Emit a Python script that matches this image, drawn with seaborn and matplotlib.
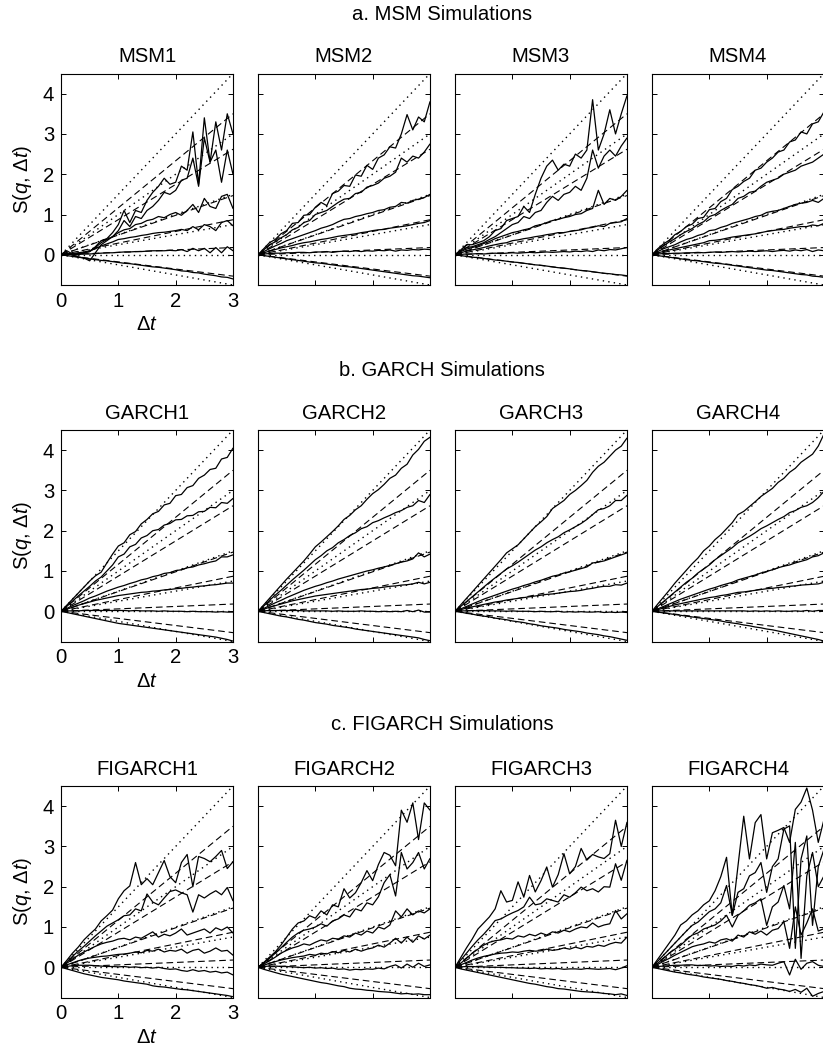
import matplotlib
matplotlib.use("Agg")
import matplotlib.pyplot as plt
import pandas as pd
import seaborn as sns

# ---------------- data ----------------
dt = [0.0, 0.1, 0.2, 0.3, 0.4, 0.5, 0.6, 0.7, 0.8, 0.9, 1.0, 1.1, 1.2, 1.3, 1.4, 1.5,
      1.6, 1.7, 1.8, 1.9, 2.0, 2.1, 2.2, 2.3, 2.4, 2.5, 2.6, 2.7, 2.8, 2.9, 3.0]

row_titles = ["a. MSM Simulations", "b. GARCH Simulations", "c. FIGARCH Simulations"]
panel_titles = [["MSM1", "MSM2", "MSM3", "MSM4"],
                ["GARCH1", "GARCH2", "GARCH3", "GARCH4"],
                ["FIGARCH1", "FIGARCH2", "FIGARCH3", "FIGARCH4"]]

# reference lines: value reached at dt = 3 (lines start at the origin)
ref_dt = [0.0, 3.0]
dashed_end = [3.5, 2.62, 1.47, 0.87, 0.18, -0.53]
dotted_end = [4.5, 3.0, 1.5, 0.75, 0.0, -0.75]

MSM1 = [
    [0.00, 0.10, 0.02, 0.03, 0.05, 0.08, 0.20, 0.35, 0.40, 0.55, 0.75, 1.10, 0.80, 1.10, 1.05, 1.35, 1.55, 1.70, 1.90, 1.75, 1.80, 2.20, 2.10, 3.05, 1.75, 3.40, 2.30, 3.30, 2.60, 3.50, 3.00],
    [0.00, 0.05, 0.00, -0.05, -0.08, -0.15, 0.05, 0.25, 0.35, 0.45, 0.60, 0.85, 0.70, 0.95, 0.90, 1.10, 1.20, 1.35, 1.55, 1.50, 1.60, 1.85, 1.90, 2.40, 1.70, 2.90, 2.30, 2.60, 1.80, 2.60, 2.00],
    [0.00, 0.03, 0.00, 0.00, 0.05, 0.08, 0.18, 0.30, 0.38, 0.45, 0.55, 0.62, 0.65, 0.75, 0.78, 0.85, 0.88, 0.95, 0.92, 1.00, 1.05, 0.98, 1.10, 1.25, 1.05, 1.40, 1.20, 1.15, 1.45, 1.50, 1.15],
    [0.00, 0.02, 0.03, 0.05, 0.07, 0.10, 0.15, 0.22, 0.27, 0.32, 0.38, 0.40, 0.43, 0.45, 0.48, 0.50, 0.53, 0.55, 0.56, 0.58, 0.60, 0.63, 0.60, 0.70, 0.62, 0.75, 0.70, 0.60, 0.80, 0.85, 0.72],
    [0.00, 0.01, 0.00, 0.01, 0.02, 0.02, 0.03, 0.04, 0.05, 0.05, 0.06, 0.07, 0.07, 0.08, 0.08, 0.09, 0.10, 0.10, 0.10, 0.11, 0.10, 0.13, 0.08, 0.16, 0.10, 0.16, 0.05, 0.18, 0.05, 0.20, 0.10],
    [0.00, -0.02, -0.04, -0.06, -0.08, -0.10, -0.12, -0.14, -0.15, -0.17, -0.19, -0.21, -0.22, -0.24, -0.26, -0.28, -0.30, -0.31, -0.33, -0.35, -0.37, -0.40, -0.41, -0.44, -0.45, -0.48, -0.50, -0.52, -0.55, -0.56, -0.60],
]
MSM2 = [
    [0.00, 0.15, 0.30, 0.38, 0.52, 0.60, 0.78, 0.80, 0.98, 1.00, 1.18, 1.30, 1.22, 1.52, 1.58, 1.72, 1.70, 1.98, 1.95, 2.22, 2.12, 2.40, 2.48, 2.68, 2.65, 3.00, 3.48, 3.10, 3.42, 3.30, 3.80],
    [0.00, 0.12, 0.25, 0.32, 0.42, 0.50, 0.62, 0.68, 0.80, 0.85, 1.00, 1.05, 1.10, 1.20, 1.30, 1.38, 1.40, 1.52, 1.55, 1.68, 1.72, 1.78, 1.90, 1.95, 2.05, 2.40, 2.30, 2.45, 2.40, 2.55, 2.75],
    [0.00, 0.08, 0.15, 0.22, 0.28, 0.35, 0.40, 0.45, 0.50, 0.55, 0.60, 0.66, 0.70, 0.75, 0.82, 0.88, 0.90, 0.95, 0.98, 1.02, 1.05, 1.10, 1.12, 1.18, 1.20, 1.30, 1.28, 1.35, 1.38, 1.42, 1.50],
    [0.00, 0.05, 0.09, 0.13, 0.17, 0.20, 0.23, 0.27, 0.30, 0.32, 0.35, 0.38, 0.40, 0.43, 0.46, 0.48, 0.50, 0.52, 0.55, 0.57, 0.60, 0.62, 0.63, 0.66, 0.68, 0.70, 0.72, 0.75, 0.78, 0.80, 0.85],
    [0.00, 0.02, 0.03, 0.04, 0.04, 0.05, 0.05, 0.06, 0.06, 0.05, 0.07, 0.07, 0.08, 0.06, 0.08, 0.09, 0.08, 0.10, 0.08, 0.10, 0.09, 0.11, 0.10, 0.12, 0.09, 0.12, 0.11, 0.13, 0.12, 0.14, 0.13],
    [0.00, -0.02, -0.04, -0.06, -0.08, -0.10, -0.12, -0.14, -0.16, -0.18, -0.20, -0.21, -0.23, -0.25, -0.27, -0.29, -0.30, -0.32, -0.34, -0.36, -0.38, -0.40, -0.42, -0.44, -0.46, -0.48, -0.50, -0.52, -0.53, -0.55, -0.57],
]
MSM3 = [
    [0.00, 0.12, 0.25, 0.25, 0.30, 0.35, 0.45, 0.60, 0.65, 0.85, 0.90, 0.95, 1.20, 1.05, 1.50, 1.90, 2.20, 2.35, 2.10, 2.25, 2.20, 2.50, 2.40, 2.60, 3.85, 2.60, 3.00, 3.60, 3.00, 3.50, 3.95],
    [0.00, 0.10, 0.18, 0.20, 0.25, 0.30, 0.38, 0.45, 0.55, 0.65, 0.75, 0.80, 0.95, 0.90, 1.05, 1.10, 1.30, 1.45, 1.35, 1.50, 1.55, 1.70, 1.60, 1.90, 2.60, 2.15, 2.45, 2.60, 2.45, 2.70, 2.90],
    [0.00, 0.08, 0.14, 0.18, 0.22, 0.28, 0.33, 0.40, 0.45, 0.50, 0.55, 0.58, 0.62, 0.65, 0.72, 0.75, 0.80, 0.85, 0.88, 0.92, 0.95, 1.00, 1.02, 1.10, 1.15, 1.60, 1.25, 1.40, 1.35, 1.45, 1.60],
    [0.00, 0.05, 0.09, 0.12, 0.15, 0.18, 0.22, 0.25, 0.28, 0.30, 0.35, 0.37, 0.40, 0.42, 0.45, 0.47, 0.50, 0.52, 0.55, 0.55, 0.58, 0.60, 0.62, 0.66, 0.68, 0.72, 0.70, 0.78, 0.80, 0.82, 0.90],
    [0.00, 0.01, 0.02, 0.02, 0.03, 0.02, 0.03, 0.04, 0.03, 0.04, 0.05, 0.04, 0.05, 0.06, 0.05, 0.06, 0.07, 0.06, 0.07, 0.08, 0.07, 0.09, 0.08, 0.10, 0.08, 0.12, 0.10, 0.13, 0.12, 0.15, 0.18],
    [0.00, -0.02, -0.04, -0.06, -0.07, -0.09, -0.11, -0.13, -0.14, -0.16, -0.18, -0.19, -0.21, -0.23, -0.25, -0.26, -0.28, -0.30, -0.32, -0.33, -0.35, -0.37, -0.39, -0.40, -0.42, -0.44, -0.46, -0.47, -0.49, -0.50, -0.52],
]
MSM4 = [
    [0.00, 0.15, 0.27, 0.36, 0.50, 0.58, 0.70, 0.76, 0.90, 0.93, 1.12, 1.15, 1.32, 1.40, 1.62, 1.70, 1.82, 1.90, 2.10, 2.15, 2.30, 2.40, 2.55, 2.60, 2.80, 2.85, 3.05, 3.00, 3.25, 3.30, 3.55],
    [0.00, 0.12, 0.22, 0.32, 0.40, 0.50, 0.58, 0.65, 0.75, 0.82, 0.95, 1.00, 1.10, 1.18, 1.25, 1.40, 1.45, 1.55, 1.58, 1.70, 1.80, 1.85, 1.90, 2.00, 2.05, 2.10, 2.20, 2.25, 2.30, 2.40, 2.50],
    [0.00, 0.08, 0.15, 0.20, 0.25, 0.32, 0.38, 0.42, 0.48, 0.52, 0.60, 0.62, 0.68, 0.72, 0.78, 0.82, 0.86, 0.90, 0.95, 0.98, 1.05, 1.08, 1.10, 1.15, 1.20, 1.25, 1.28, 1.30, 1.35, 1.30, 1.40],
    [0.00, 0.05, 0.08, 0.12, 0.15, 0.18, 0.21, 0.24, 0.27, 0.30, 0.35, 0.36, 0.38, 0.41, 0.44, 0.46, 0.48, 0.50, 0.52, 0.55, 0.58, 0.60, 0.62, 0.63, 0.66, 0.68, 0.70, 0.70, 0.74, 0.72, 0.78],
    [0.00, 0.02, 0.03, 0.03, 0.04, 0.04, 0.05, 0.05, 0.06, 0.05, 0.06, 0.07, 0.06, 0.07, 0.08, 0.07, 0.08, 0.09, 0.08, 0.09, 0.10, 0.08, 0.10, 0.11, 0.09, 0.12, 0.10, 0.13, 0.08, 0.12, 0.10],
    [0.00, -0.02, -0.04, -0.06, -0.08, -0.10, -0.12, -0.14, -0.15, -0.17, -0.19, -0.21, -0.22, -0.24, -0.26, -0.28, -0.30, -0.32, -0.34, -0.36, -0.38, -0.39, -0.41, -0.43, -0.45, -0.47, -0.49, -0.50, -0.53, -0.54, -0.56],
]
GARCH1 = [
    [0.00, 0.15, 0.30, 0.45, 0.60, 0.75, 0.88, 0.97, 1.20, 1.42, 1.62, 1.70, 1.90, 1.98, 2.17, 2.28, 2.42, 2.48, 2.64, 2.68, 2.87, 2.90, 3.07, 3.12, 3.30, 3.38, 3.52, 3.55, 3.78, 3.82, 4.05],
    [0.00, 0.12, 0.25, 0.38, 0.50, 0.62, 0.75, 0.85, 1.00, 1.15, 1.35, 1.42, 1.60, 1.66, 1.82, 1.88, 2.00, 2.03, 2.14, 2.18, 2.27, 2.28, 2.37, 2.38, 2.47, 2.48, 2.58, 2.57, 2.70, 2.68, 2.80],
    [0.00, 0.07, 0.14, 0.20, 0.26, 0.33, 0.38, 0.44, 0.50, 0.55, 0.60, 0.64, 0.69, 0.73, 0.78, 0.81, 0.86, 0.89, 0.94, 0.96, 1.01, 1.03, 1.08, 1.10, 1.15, 1.18, 1.22, 1.25, 1.35, 1.35, 1.40],
    [0.00, 0.05, 0.10, 0.15, 0.19, 0.23, 0.27, 0.30, 0.33, 0.36, 0.39, 0.41, 0.43, 0.45, 0.47, 0.48, 0.50, 0.51, 0.53, 0.54, 0.56, 0.57, 0.59, 0.60, 0.62, 0.63, 0.65, 0.66, 0.68, 0.70, 0.70],
    [0.00, 0.01, 0.01, 0.01, 0.02, 0.02, 0.02, 0.02, 0.02, 0.02, 0.02, 0.02, 0.01, 0.02, 0.01, 0.01, 0.01, 0.00, 0.01, 0.00, 0.00, 0.00, -0.01, 0.00, -0.01, -0.01, -0.01, -0.02, -0.01, -0.02, -0.02],
    [0.00, -0.03, -0.06, -0.09, -0.12, -0.15, -0.18, -0.21, -0.24, -0.27, -0.30, -0.32, -0.34, -0.36, -0.38, -0.40, -0.42, -0.44, -0.46, -0.48, -0.50, -0.52, -0.54, -0.56, -0.58, -0.60, -0.62, -0.64, -0.67, -0.70, -0.74],
]
GARCH2 = [
    [0.00, 0.16, 0.32, 0.48, 0.64, 0.80, 0.95, 1.10, 1.25, 1.42, 1.60, 1.72, 1.85, 1.98, 2.12, 2.28, 2.38, 2.52, 2.62, 2.78, 2.92, 3.02, 3.15, 3.30, 3.38, 3.55, 3.65, 3.88, 4.02, 4.22, 4.32],
    [0.00, 0.13, 0.27, 0.40, 0.52, 0.65, 0.78, 0.90, 1.02, 1.15, 1.28, 1.38, 1.50, 1.58, 1.70, 1.78, 1.88, 1.95, 2.05, 2.10, 2.20, 2.25, 2.32, 2.38, 2.45, 2.50, 2.58, 2.62, 2.75, 2.70, 2.90],
    [0.00, 0.07, 0.14, 0.21, 0.27, 0.34, 0.40, 0.46, 0.52, 0.57, 0.62, 0.66, 0.71, 0.75, 0.80, 0.84, 0.88, 0.92, 0.96, 1.00, 1.03, 1.07, 1.10, 1.14, 1.18, 1.22, 1.25, 1.30, 1.45, 1.35, 1.42],
    [0.00, 0.05, 0.10, 0.14, 0.18, 0.22, 0.26, 0.29, 0.32, 0.35, 0.38, 0.40, 0.42, 0.44, 0.46, 0.48, 0.50, 0.52, 0.54, 0.55, 0.57, 0.58, 0.60, 0.62, 0.63, 0.65, 0.66, 0.68, 0.72, 0.68, 0.72],
    [0.00, 0.01, 0.02, 0.02, 0.02, 0.02, 0.02, 0.02, 0.01, 0.01, 0.01, 0.01, 0.01, 0.00, 0.01, 0.00, 0.00, 0.00, 0.01, 0.00, 0.00, -0.01, 0.00, -0.01, 0.00, -0.01, 0.02, -0.01, 0.03, -0.02, -0.02],
    [0.00, -0.03, -0.06, -0.09, -0.12, -0.14, -0.17, -0.20, -0.22, -0.25, -0.28, -0.30, -0.32, -0.35, -0.37, -0.39, -0.41, -0.44, -0.46, -0.48, -0.50, -0.52, -0.54, -0.56, -0.58, -0.60, -0.62, -0.64, -0.66, -0.70, -0.73],
]
GARCH3 = [
    [0.00, 0.16, 0.32, 0.48, 0.64, 0.80, 0.96, 1.12, 1.28, 1.45, 1.55, 1.65, 1.80, 1.95, 2.10, 2.22, 2.35, 2.55, 2.65, 2.75, 2.90, 3.00, 3.12, 3.25, 3.45, 3.60, 3.70, 3.85, 4.00, 4.10, 4.30],
    [0.00, 0.12, 0.24, 0.36, 0.48, 0.60, 0.72, 0.83, 0.94, 1.05, 1.13, 1.22, 1.32, 1.42, 1.52, 1.60, 1.70, 1.78, 1.85, 1.95, 2.02, 2.10, 2.18, 2.28, 2.40, 2.52, 2.55, 2.62, 2.75, 2.75, 2.88],
    [0.00, 0.06, 0.12, 0.18, 0.24, 0.30, 0.35, 0.40, 0.45, 0.50, 0.55, 0.59, 0.64, 0.68, 0.73, 0.77, 0.82, 0.87, 0.90, 0.95, 0.98, 1.02, 1.06, 1.10, 1.20, 1.22, 1.25, 1.30, 1.35, 1.40, 1.45],
    [0.00, 0.04, 0.08, 0.11, 0.14, 0.17, 0.20, 0.23, 0.25, 0.28, 0.30, 0.32, 0.34, 0.36, 0.38, 0.40, 0.42, 0.43, 0.45, 0.47, 0.49, 0.50, 0.52, 0.55, 0.57, 0.60, 0.62, 0.62, 0.66, 0.65, 0.70],
    [0.00, 0.01, 0.01, 0.02, 0.01, 0.02, 0.01, 0.01, 0.01, 0.00, 0.01, 0.00, 0.00, 0.00, -0.01, 0.00, -0.01, -0.01, 0.00, -0.02, -0.01, -0.02, -0.01, -0.02, -0.02, -0.01, -0.03, -0.02, -0.03, -0.02, -0.03],
    [0.00, -0.02, -0.05, -0.07, -0.10, -0.12, -0.14, -0.17, -0.19, -0.21, -0.24, -0.26, -0.28, -0.31, -0.33, -0.36, -0.38, -0.40, -0.42, -0.45, -0.47, -0.49, -0.51, -0.54, -0.56, -0.58, -0.61, -0.63, -0.66, -0.69, -0.72],
]
GARCH4 = [
    [0.00, 0.18, 0.35, 0.52, 0.70, 0.86, 1.02, 1.18, 1.32, 1.50, 1.62, 1.78, 1.90, 2.05, 2.20, 2.40, 2.48, 2.60, 2.72, 2.85, 2.95, 3.05, 3.20, 3.30, 3.45, 3.55, 3.70, 3.80, 3.90, 4.10, 4.40],
    [0.00, 0.12, 0.24, 0.36, 0.48, 0.60, 0.72, 0.82, 0.95, 1.05, 1.15, 1.28, 1.38, 1.48, 1.58, 1.70, 1.78, 1.86, 1.95, 2.05, 2.12, 2.20, 2.28, 2.35, 2.45, 2.50, 2.58, 2.62, 2.70, 2.82, 2.98],
    [0.00, 0.06, 0.12, 0.18, 0.24, 0.30, 0.35, 0.40, 0.45, 0.50, 0.55, 0.59, 0.64, 0.68, 0.72, 0.78, 0.82, 0.86, 0.90, 0.95, 0.99, 1.03, 1.08, 1.12, 1.15, 1.20, 1.24, 1.28, 1.35, 1.38, 1.45],
    [0.00, 0.04, 0.08, 0.12, 0.16, 0.19, 0.22, 0.25, 0.28, 0.31, 0.34, 0.36, 0.39, 0.41, 0.44, 0.47, 0.48, 0.50, 0.52, 0.54, 0.56, 0.57, 0.59, 0.60, 0.62, 0.63, 0.65, 0.66, 0.67, 0.68, 0.72],
    [0.00, 0.01, 0.01, 0.01, 0.01, 0.01, 0.01, 0.01, 0.01, 0.01, 0.01, 0.01, 0.01, 0.01, 0.01, 0.01, 0.01, 0.00, 0.01, 0.00, 0.01, 0.00, 0.01, 0.00, 0.00, 0.01, 0.00, 0.02, 0.00, 0.02, 0.02],
    [0.00, -0.02, -0.04, -0.06, -0.08, -0.10, -0.12, -0.14, -0.16, -0.18, -0.20, -0.22, -0.24, -0.27, -0.29, -0.31, -0.34, -0.36, -0.39, -0.41, -0.44, -0.46, -0.49, -0.52, -0.55, -0.58, -0.61, -0.64, -0.67, -0.70, -0.74],
]
FIGARCH1 = [
    [0.00, 0.17, 0.35, 0.50, 0.68, 0.82, 0.95, 1.15, 1.28, 1.42, 1.70, 1.90, 2.02, 2.60, 2.05, 2.20, 2.05, 2.35, 2.65, 2.25, 2.10, 2.60, 2.80, 2.00, 2.75, 2.70, 2.62, 2.75, 2.90, 2.45, 2.62],
    [0.00, 0.13, 0.27, 0.40, 0.52, 0.65, 0.78, 0.90, 1.02, 1.10, 1.18, 1.28, 1.30, 1.45, 1.40, 1.82, 1.62, 1.55, 1.72, 1.88, 1.92, 1.85, 1.80, 1.37, 1.80, 1.72, 1.82, 1.90, 1.80, 1.98, 1.65],
    [0.00, 0.10, 0.20, 0.30, 0.38, 0.45, 0.52, 0.58, 0.62, 0.65, 0.70, 0.72, 0.68, 0.75, 0.72, 0.80, 0.88, 0.75, 0.82, 0.78, 0.85, 0.95, 0.80, 0.85, 0.90, 0.95, 0.85, 0.98, 0.92, 1.00, 0.85],
    [0.00, 0.06, 0.11, 0.16, 0.20, 0.23, 0.25, 0.27, 0.28, 0.30, 0.32, 0.33, 0.35, 0.38, 0.36, 0.42, 0.40, 0.45, 0.38, 0.42, 0.40, 0.45, 0.35, 0.42, 0.45, 0.35, 0.40, 0.48, 0.40, 0.42, 0.30],
    [0.00, 0.02, 0.04, 0.05, 0.05, 0.05, 0.04, 0.03, 0.02, 0.02, 0.01, 0.02, 0.00, 0.01, -0.01, 0.00, -0.02, 0.00, -0.03, -0.05, -0.04, -0.08, -0.10, -0.06, -0.10, -0.08, -0.12, -0.10, -0.14, -0.12, -0.19],
    [0.00, -0.04, -0.08, -0.12, -0.16, -0.19, -0.22, -0.25, -0.27, -0.29, -0.31, -0.34, -0.36, -0.38, -0.40, -0.42, -0.46, -0.48, -0.49, -0.51, -0.53, -0.55, -0.56, -0.58, -0.60, -0.62, -0.64, -0.66, -0.68, -0.70, -0.73],
]
FIGARCH2 = [
    [0.00, 0.12, 0.25, 0.38, 0.55, 0.75, 0.95, 1.10, 1.15, 1.28, 1.22, 1.40, 1.30, 1.55, 1.50, 1.95, 1.72, 1.85, 2.10, 2.40, 2.15, 2.55, 2.85, 2.78, 2.52, 3.90, 3.60, 4.08, 3.17, 4.08, 3.90],
    [0.00, 0.10, 0.22, 0.35, 0.48, 0.62, 0.75, 0.85, 0.92, 0.95, 1.00, 1.08, 1.02, 1.15, 1.20, 1.30, 1.25, 1.45, 1.40, 1.60, 1.55, 1.75, 2.10, 2.30, 1.77, 2.85, 2.44, 2.60, 2.85, 2.44, 2.70],
    [0.00, 0.08, 0.16, 0.25, 0.35, 0.42, 0.48, 0.52, 0.58, 0.55, 0.62, 0.68, 0.65, 0.72, 0.70, 0.78, 0.75, 0.85, 0.80, 0.90, 0.85, 1.00, 0.95, 1.05, 1.40, 1.25, 1.45, 1.30, 1.40, 1.35, 1.45],
    [0.00, 0.05, 0.10, 0.14, 0.18, 0.21, 0.24, 0.26, 0.28, 0.32, 0.30, 0.35, 0.33, 0.39, 0.36, 0.42, 0.38, 0.45, 0.40, 0.45, 0.48, 0.55, 0.50, 0.60, 0.72, 0.60, 0.75, 0.62, 0.78, 0.70, 0.80],
    [0.00, 0.02, 0.03, 0.03, 0.02, 0.02, 0.01, 0.00, -0.01, 0.00, -0.02, -0.01, -0.03, -0.02, -0.05, -0.04, -0.07, -0.05, -0.06, -0.04, -0.05, -0.02, -0.04, 0.02, 0.06, -0.02, 0.08, 0.00, 0.10, 0.02, 0.06],
    [0.00, -0.05, -0.09, -0.13, -0.17, -0.20, -0.23, -0.26, -0.29, -0.32, -0.35, -0.38, -0.40, -0.43, -0.46, -0.48, -0.52, -0.54, -0.55, -0.57, -0.58, -0.60, -0.61, -0.62, -0.64, -0.66, -0.65, -0.67, -0.66, -0.68, -0.68],
]
FIGARCH3 = [
    [0.00, 0.24, 0.48, 0.70, 0.95, 1.10, 1.25, 1.45, 1.90, 1.62, 1.66, 2.12, 1.74, 2.28, 1.87, 2.15, 2.49, 1.99, 2.30, 2.82, 2.32, 2.50, 2.95, 2.66, 2.80, 2.74, 2.70, 2.82, 3.65, 3.00, 3.60],
    [0.00, 0.18, 0.35, 0.52, 0.68, 0.82, 0.98, 1.16, 1.20, 1.28, 1.35, 1.41, 1.50, 1.74, 1.55, 1.58, 1.70, 1.66, 1.62, 1.80, 1.74, 1.85, 1.99, 1.90, 1.95, 1.87, 2.00, 1.99, 2.57, 2.16, 2.66],
    [0.00, 0.10, 0.22, 0.35, 0.45, 0.55, 0.62, 0.66, 0.68, 0.72, 0.70, 0.78, 0.75, 0.82, 0.78, 0.85, 0.80, 0.88, 0.85, 0.92, 0.88, 0.95, 1.00, 0.98, 1.10, 1.00, 1.05, 1.08, 1.41, 1.20, 1.33],
    [0.00, 0.06, 0.12, 0.18, 0.23, 0.27, 0.30, 0.33, 0.35, 0.36, 0.38, 0.37, 0.40, 0.42, 0.40, 0.41, 0.45, 0.42, 0.44, 0.48, 0.45, 0.50, 0.46, 0.52, 0.50, 0.55, 0.52, 0.58, 0.62, 0.60, 0.75],
    [0.00, 0.01, 0.02, 0.02, 0.01, 0.01, 0.00, 0.00, 0.00, -0.01, -0.01, -0.02, -0.02, -0.03, -0.02, -0.04, -0.03, -0.04, -0.03, -0.05, -0.04, -0.04, -0.05, -0.03, -0.04, -0.05, -0.04, -0.03, -0.06, -0.02, 0.04],
    [0.00, -0.04, -0.07, -0.10, -0.13, -0.16, -0.19, -0.22, -0.25, -0.28, -0.31, -0.34, -0.37, -0.40, -0.42, -0.45, -0.48, -0.50, -0.53, -0.54, -0.56, -0.58, -0.60, -0.61, -0.62, -0.63, -0.65, -0.66, -0.68, -0.66, -0.70],
]
FIGARCH4 = [
    [0.00, 0.20, 0.40, 0.60, 0.80, 1.05, 1.15, 1.30, 1.40, 1.55, 1.65, 1.90, 2.25, 2.73, 1.29, 2.52, 3.75, 2.69, 3.59, 3.79, 2.69, 3.34, 3.40, 3.47, 3.10, 3.92, 4.10, 4.45, 3.90, 3.10, 3.67],
    [0.00, 0.15, 0.30, 0.45, 0.60, 0.75, 0.90, 1.04, 1.12, 1.25, 1.38, 1.45, 1.60, 2.03, 1.29, 1.86, 1.95, 2.27, 2.35, 2.60, 1.86, 2.50, 2.69, 3.43, 3.51, 0.47, 2.69, 3.26, 1.04, 2.50, 2.93],
    [0.00, 0.10, 0.22, 0.35, 0.45, 0.55, 0.68, 0.80, 0.85, 0.95, 1.00, 1.05, 1.15, 1.29, 1.00, 1.29, 1.40, 1.54, 1.60, 1.70, 1.04, 1.50, 1.62, 2.03, 1.45, 3.10, 0.22, 2.27, 2.85, 2.00, 2.27],
    [0.00, 0.07, 0.15, 0.22, 0.30, 0.37, 0.44, 0.51, 0.55, 0.58, 0.63, 0.60, 0.68, 0.71, 0.65, 0.80, 0.75, 0.88, 0.82, 0.90, 0.80, 0.92, 0.96, 1.13, 0.47, 1.50, 0.80, 1.10, 1.45, 0.90, 0.96],
    [0.00, 0.02, 0.03, 0.04, 0.05, 0.05, 0.06, 0.06, 0.04, 0.05, 0.03, 0.04, 0.02, 0.03, 0.02, 0.05, 0.03, 0.06, 0.04, 0.08, 0.06, 0.05, 0.10, 0.14, -0.19, 0.20, -0.05, 0.10, 0.14, 0.05, 0.02],
    [0.00, -0.03, -0.06, -0.09, -0.12, -0.14, -0.17, -0.19, -0.21, -0.24, -0.26, -0.28, -0.30, -0.33, -0.35, -0.38, -0.40, -0.43, -0.45, -0.48, -0.52, -0.50, -0.54, -0.56, -0.60, -0.55, -0.62, -0.52, -0.72, -0.65, -0.60],
]

panels = [[MSM1, MSM2, MSM3, MSM4],
          [GARCH1, GARCH2, GARCH3, GARCH4],
          [FIGARCH1, FIGARCH2, FIGARCH3, FIGARCH4]]

x_ticks = [0, 1, 2, 3]
y_ticks = [0, 1, 2, 3, 4]

# ---------------- style ----------------
sns.set_theme(style="ticks")
FONT = ["Liberation Sans", "DejaVu Sans"]
plt.rcParams.update({
    "font.family": FONT,
    "mathtext.fontset": "custom",
    "mathtext.rm": "Liberation Sans",
    "mathtext.it": "Liberation Sans:italic",
    "axes.edgecolor": "black",
    "axes.linewidth": 0.8,
    "xtick.direction": "in",
    "ytick.direction": "in",
    "xtick.top": True,
    "ytick.right": True,
    "xtick.major.size": 3.5,
    "ytick.major.size": 3.5,
    "xtick.major.width": 0.7,
    "ytick.major.width": 0.7,
    "xtick.color": "black",
    "ytick.color": "black",
    "text.color": "black",
    "axes.labelcolor": "black",
})

W, H = 823, 1047
fig = plt.figure(figsize=(W / 100, H / 100), dpi=100)
fig.patch.set_facecolor("white")

lefts_px = [61, 258, 455, 652]
tops_px = [73.5, 430, 786]
aw_px, ah_px = 172, 211.5
row_title_y_px = [15, 370, 725]

TXT = 14.6
DASH = (0, (6.0, 3.5))
DOT = (0, (1.0, 3.0))


def long_frame(lines, xs):
    rows = []
    for k, ys in enumerate(lines):
        for xv, yv in zip(xs, ys):
            rows.append({"dt": xv, "S": yv, "q": k})
    return pd.DataFrame(rows)


dotted_df = long_frame([[0.0, e] for e in dotted_end], ref_dt)
dashed_df = long_frame([[0.0, e] for e in dashed_end], ref_dt)

for r in range(3):
    fig.text(442 / W, 1 - row_title_y_px[r] / H, row_titles[r],
             ha="center", va="center", fontsize=TXT)
    for c in range(4):
        ax = fig.add_axes([lefts_px[c] / W, 1 - (tops_px[r] + ah_px) / H,
                           aw_px / W, ah_px / H])
        sns.lineplot(data=dotted_df, x="dt", y="S", units="q", estimator=None,
                     color="black", lw=1.0, linestyle=DOT, ax=ax, legend=False)
        sns.lineplot(data=dashed_df, x="dt", y="S", units="q", estimator=None,
                     color="black", lw=0.8, linestyle=DASH, ax=ax, legend=False)
        solid_df = long_frame(panels[r][c], dt)
        sns.lineplot(data=solid_df, x="dt", y="S", units="q", estimator=None,
                     color="black", lw=0.9, ax=ax, legend=False)
        ax.set_xlim(0, 3)
        ax.set_ylim(-0.75, 4.5)
        ax.set_xticks(x_ticks)
        ax.set_yticks(y_ticks)
        ax.tick_params(axis="both", which="both", pad=5, labelsize=TXT)
        ax.set_title(panel_titles[r][c], fontsize=TXT, pad=8)
        for sp in ax.spines.values():
            sp.set_visible(True)
            sp.set_color("black")
        if c == 0:
            ax.set_xlabel("Δ$t$", fontsize=TXT, labelpad=3)
            ax.set_ylabel("S($q$, Δ$t$)", fontsize=TXT, labelpad=6)
        else:
            ax.set_xticklabels([])
            ax.set_yticklabels([])
            ax.set_xlabel("")
            ax.set_ylabel("")

fig.savefig("out.png", dpi=100, facecolor="white")
